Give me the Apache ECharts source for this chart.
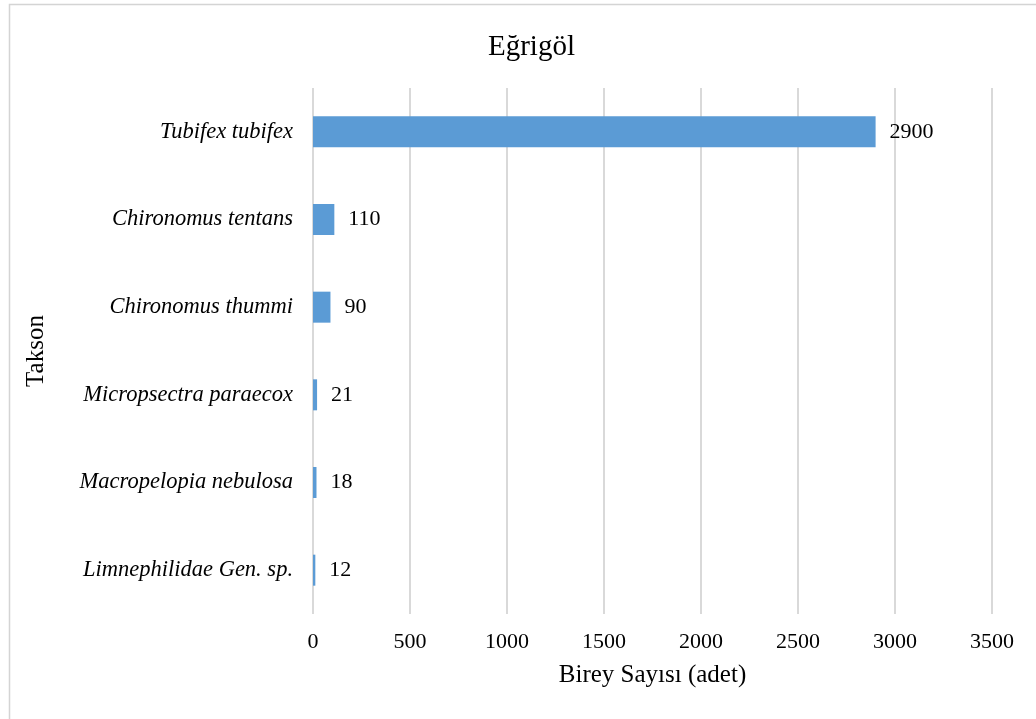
<!DOCTYPE html>
<html>
<head>
<meta charset="utf-8">
<title>Eğrigöl</title>
<script src="https://cdn.jsdelivr.net/npm/echarts@6/dist/echarts.min.js"></script>
<style>
  html, body { margin: 0; padding: 0; background: #fff; }
  #chart { width: 1036px; height: 719px; }
</style>
</head>
<body>
<div id="chart"></div>
<script>
// categories bottom -> top (category axis draws first item at the bottom)
const taxa = [
  'Limnephilidae Gen. sp.',
  'Macropelopia nebulosa',
  'Micropsectra paraecox',
  'Chironomus thummi',
  'Chironomus tentans',
  'Tubifex tubifex'
]
const counts = [12, 18, 21, 90, 110, 2900]
const xTicks = [0, 500, 1000, 1500, 2000, 2500, 3000, 3500]

const serif = '"Liberation Serif", "Times New Roman", serif'

const chart = echarts.init(document.getElementById('chart'))

const option = {
  animation: false,
  backgroundColor: '#fff',
  title: {
    text: 'Eğrigöl',
    left: 483,
    top: 28,
    textStyle: { fontFamily: serif, fontSize: 29, fontWeight: 'normal', color: '#000' }
  },
  graphic: [{
    type: 'rect',
    shape: { x: 9.5, y: 4.5, width: 1040, height: 730 },
    style: { fill: 'none', stroke: '#d4d4d4', lineWidth: 1.5 },
    silent: true
  }],
  grid: {
    left: 313,
    right: 44,
    top: 88,
    bottom: 105
  },
  xAxis: {
    type: 'value',
    min: xTicks[0],
    max: xTicks[xTicks.length - 1],
    interval: 500,
    name: 'Birey Sayısı (adet)',
    nameLocation: 'middle',
    nameGap: 49,
    nameTextStyle: { fontFamily: serif, fontSize: 25, color: '#000' },
    axisLine: { show: false },
    axisTick: { show: false },
    axisLabel: {
      fontFamily: serif, fontSize: 22, color: '#000', margin: 17,
      formatter: v => String(v)
    },
    splitLine: { show: true, lineStyle: { color: '#d9d9d9', width: 2 } }
  },
  yAxis: {
    type: 'category',
    data: taxa,
    name: 'Takson',
    nameLocation: 'middle',
    nameGap: 264,
    nameTextStyle: { fontFamily: serif, fontSize: 25, color: '#000' },
    axisLine: { show: false },
    axisTick: { show: false },
    axisLabel: { fontFamily: serif, fontStyle: 'italic', fontSize: 22.5, color: '#000', margin: 20 }
  },
  series: [{
    type: 'bar',
    data: counts,
    barWidth: 31,
    itemStyle: { color: '#5b9bd5' },
    label: {
      show: true,
      position: 'right',
      distance: 14,
      fontFamily: serif,
      fontSize: 22,
      color: '#000'
    }
  }]
}

chart.setOption(option)
window.addEventListener('resize', () => chart.resize())
</script>
</body>
</html>
